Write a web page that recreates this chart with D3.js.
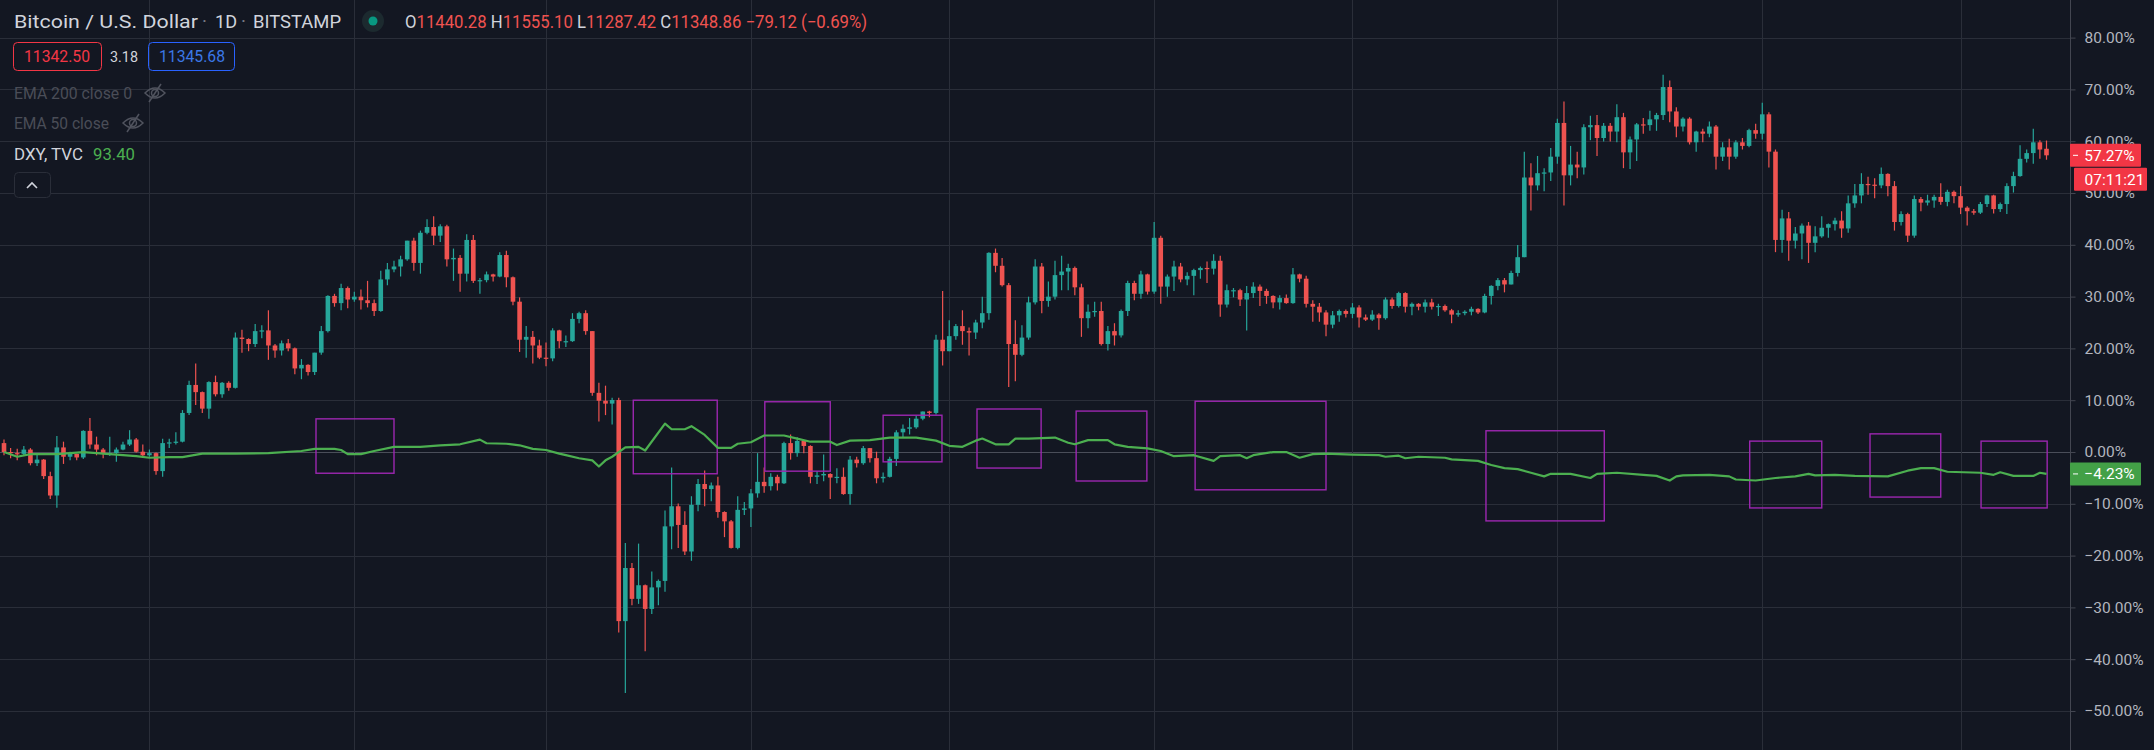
<!DOCTYPE html>
<html>
<head>
<meta charset="utf-8">
<script src="https://cdn.jsdelivr.net/npm/d3@7"></script>
<style>
  body { margin: 0; background: #131722; overflow: hidden; }
  text { font-family: Roboto, "Noto Sans", sans-serif; }
</style>
</head>
<body>
<script>
// BTCUSD daily candles (Bitstamp), [open, high, low, close], 10 Dec 2019 -> 14 Oct 2020
const dec19 = [
  [7340,7390,7170,7216],[7216,7270,7130,7200],[7200,7260,7100,7190],[7190,7300,7170,7250],
  [7250,7270,7030,7060],[7060,7190,7020,7110],[7110,7120,6840,6880],[6880,6940,6560,6610],
  [6610,7440,6440,7280],[7280,7360,7050,7150],[7150,7220,7100,7190],[7190,7190,7100,7140],
  [7140,7520,7120,7510],[7510,7690,7260,7320],[7320,7430,7170,7250],[7250,7270,7130,7200],
  [7200,7430,7160,7200],[7200,7280,7080,7250],[7250,7360,7240,7320],[7320,7520,7300,7390],
  [7390,7410,7210,7220],[7220,7320,7150,7170]
]
const jan20 = [
  [7170,7250,7150,7200],[7200,7210,6900,6950],[6950,7400,6870,7340],[7340,7400,7270,7350],
  [7350,7490,7320,7360],[7360,7800,7350,7760],[7760,8210,7730,8150],[8150,8450,7870,8050],
  [8050,8060,7760,7820],[7820,8200,7680,8190],[8190,8280,7990,8020],[8020,8190,7970,8180],
  [8180,8200,8070,8110],[8110,8880,8100,8810],[8810,8920,8600,8790],[8790,8800,8620,8720],
  [8720,9000,8680,8900],[8900,8980,8800,8910],[8910,9190,8500,8700],[8700,8720,8530,8630],
  [8630,8770,8560,8730],[8730,8790,8620,8660],[8660,8670,8300,8380],[8380,8510,8230,8430],
  [8430,8440,8280,8330],[8330,8600,8290,8600],[8600,8970,8570,8900],[8900,9400,8880,9390],
  [9390,9420,9240,9290],[9290,9560,9190,9500],[9500,9520,9220,9340]
]
const feb20 = [
  [9340,9450,9310,9380],[9380,9480,9200,9330],[9330,9600,9230,9290],[9290,9340,9110,9180],
  [9180,9740,9170,9620],[9620,9850,9540,9760],[9760,9880,9720,9800],[9800,9950,9660,9900],
  [9900,10160,9880,10160],[10160,10200,9740,9850],[9850,10300,9700,10270],[10270,10460,10250,10350],
  [10350,10500,10100,10230],[10230,10390,10140,10360],[10360,10380,9800,9900],[9900,10050,9600,9920],
  [9920,9960,9450,9700],[9700,10250,9590,10170],[10170,10240,9570,9600],[9600,9640,9420,9610],
  [9610,9730,9580,9690],[9690,9700,9590,9660],[9660,10000,9650,9960],[9960,10020,9510,9650],
  [9650,9660,9260,9310],[9310,9370,8610,8780],[8780,8970,8530,8820],[8820,8900,8450,8700],
  [8700,8780,8510,8530]
]
const mar20 = [
  [8530,8740,8410,8520],[8520,8940,8480,8910],[8910,8920,8660,8760],[8760,8840,8680,8760],
  [8760,9150,8750,9070],[9070,9170,9010,9150],[9150,9190,8850,8900],[8900,8900,8000,8040],
  [8040,8180,7640,7930],[7930,8140,7730,7890],[7890,7970,7600,7940],[7940,7970,4700,4860],
  [4860,5950,3860,5600],[5600,5670,5080,5170],[5170,5940,5100,5360],[5360,5370,4440,5030],
  [5030,5550,4960,5330],[5330,5440,5080,5420],[5420,6400,5270,6180],[6180,7000,5860,6460],
  [6460,6500,5880,6200],[6200,6390,5780,5830],[5830,6600,5700,6480],[6480,6840,6390,6770],
  [6770,6960,6460,6700],[6700,6790,6530,6750],[6750,6870,6300,6380],[6380,6390,6030,6250],
  [6250,6270,5870,5880],[5880,6600,5860,6410],[6410,6520,6340,6430]
]
const apr20 = [
  [6430,6700,6170,6640],[6640,7200,6580,6800],[6800,7000,6650,6740],[6740,6920,6680,6870],
  [6870,6900,6680,6780],[6780,7360,6770,7340],[7340,7460,7110,7200],[7200,7420,7150,7370],
  [7370,7380,7200,7300],[7300,7310,6780,6870],[6870,6950,6770,6890],[6890,7180,6810,6910],
  [6910,6920,6560,6860],[6860,6990,6780,6870],[6870,7000,6620,6630],[6630,7160,6480,7110],
  [7110,7150,7000,7060],[7060,7300,7040,7270],[7270,7270,7070,7130],[7130,7220,6780,6850],
  [6850,6930,6790,6870],[6870,7150,6860,7120],[7120,7520,7020,7490],[7490,7600,7410,7540],
  [7540,7690,7460,7560],[7560,7720,7540,7680],[7680,7780,7660,7780],[7780,7790,7700,7760],
  [7760,8850,7740,8780],[8780,9460,8420,8620]
]
const may20 = [
  [8620,9050,8620,8830],[8830,9000,8780,8970],[8970,9190,8710,8900],[8900,8950,8560,8880],
  [8880,9060,8790,9020],[9020,9380,8940,9150],[9150,10000,9060,9990],[9990,10050,9720,9810],
  [9810,9920,9520,9540],[9540,9570,8120,8720],[8720,9050,8200,8570],[8570,8980,8550,8810],
  [8810,9380,8780,9300],[9300,9900,9270,9800],[9800,9850,9150,9320],[9320,9590,9240,9380],
  [9380,9880,9340,9680],[9680,9950,9470,9730],[9730,9840,9470,9780],[9780,9800,9400,9510],
  [9510,9560,8820,9080],[9080,9270,8940,9170],[9170,9310,9100,9180],[9180,9310,8700,8720],
  [8720,8970,8630,8900],[8900,9010,8700,8840],[8840,9200,8810,9180],[9180,9600,9110,9570],
  [9570,9600,9330,9420],[9420,9740,9350,9690],[9690,9700,9410,9450]
]
const jun20 = [
  [9450,10420,9420,10200],[10200,10230,9280,9520],[9520,9690,9380,9660],[9660,9880,9460,9800],
  [9800,9850,9580,9620],[9620,9720,9540,9670],[9670,9770,9400,9750],[9750,9800,9630,9780],
  [9780,9870,9570,9770],[9770,9970,9690,9880],[9880,9950,9100,9270],[9270,9550,9230,9470],
  [9470,9500,9370,9470],[9470,9490,9250,9340],[9340,9530,8910,9430],[9430,9580,9360,9520],
  [9520,9550,9250,9460],[9460,9490,9280,9390],[9390,9400,9220,9300],[9300,9400,9200,9360],
  [9360,9410,9280,9290],[9290,9780,9280,9690],[9690,9700,9580,9630],[9630,9670,9230,9280],
  [9280,9330,9030,9240],[9240,9290,9030,9160],[9160,9190,8830,8990],[8990,9180,8940,9120],
  [9120,9200,9030,9180],[9180,9200,9090,9140]
]
const jul20 = [
  [9140,9290,9080,9230],[9230,9260,8950,9090],[9090,9130,9040,9060],[9060,9190,9040,9130],
  [9130,9150,8920,9080],[9080,9370,9060,9340],[9340,9370,9210,9250],[9250,9450,9230,9430],
  [9430,9440,9160,9240],[9240,9300,9120,9280],[9280,9290,9190,9240],[9240,9340,9160,9300],
  [9300,9350,9200,9240],[9240,9280,9110,9250],[9250,9270,9170,9190],[9190,9210,9010,9130],
  [9130,9190,9100,9150],[9150,9190,9120,9170],[9170,9240,9120,9210],[9210,9220,9140,9160],
  [9160,9420,9150,9390],[9390,9540,9270,9530],[9530,9640,9470,9610],[9610,9640,9440,9550],
  [9550,9740,9550,9710],[9710,10100,9660,9930],[9930,11400,9930,11040],[11040,11240,10580,10930],
  [10930,11340,10860,11100],[11100,11170,10850,11110],[11110,11450,10990,11330]
]
const aug20 = [
  [11330,11860,11230,11800],[11800,12100,10650,11070],[11070,11480,10930,11220],[11220,11400,11030,11180],
  [11180,11780,11080,11740],[11740,11900,11560,11770],[11770,11910,11340,11590],[11590,11800,11540,11760],
  [11760,11800,11540,11680],[11680,12060,11530,11880],[11880,11940,11170,11390],[11390,11610,11160,11570],
  [11570,11800,11270,11780],[11780,11870,11650,11770],[11770,11970,11690,11850],[11850,11940,11690,11910],
  [11910,12470,11840,12300],[12300,12390,11810,11960],[11960,12020,11600,11750],[11750,11880,11680,11860],
  [11860,11880,11500,11530],[11530,11690,11400,11680],[11680,11720,11530,11650],[11650,11820,11600,11750],
  [11750,11770,11150,11330],[11330,11530,11270,11460],[11460,11580,11150,11330],[11330,11560,11300,11530],
  [11530,11590,11430,11480],[11480,11720,11460,11700],[11700,11790,11580,11650]
]
const sep20 = [
  [11650,12080,11570,11920],[11920,11950,11180,11400],[11400,11430,10000,10170],[10170,10590,9990,10470],
  [10470,10560,9880,10160],[10160,10350,10050,10260],[10260,10400,9900,10370],[10370,10420,9850,10130],
  [10130,10360,10000,10220],[10220,10500,10200,10340],[10340,10400,10200,10390],[10390,10480,10300,10440],
  [10440,10570,10200,10330],[10330,10790,10270,10680],[10680,10950,10620,10790],[10790,11100,10680,10950],
  [10950,11050,10800,10940],[10940,11030,10750,10930],[10930,11180,10890,11090],[11090,11100,10780,10920],
  [10920,10990,10300,10420],[10420,10570,10370,10530],[10530,10550,10140,10230],[10230,10790,10200,10740],
  [10740,10770,10570,10690],[10690,10800,10650,10720],[10720,10800,10620,10770],[10770,10960,10660,10700],
  [10700,10870,10640,10840],[10840,10860,10680,10780]
]
const oct20 = [
  [10780,10920,10530,10620],[10620,10640,10370,10570],[10570,10600,10520,10550],[10550,10700,10530,10670],
  [10670,10800,10630,10790],[10790,10800,10540,10600],[10600,10690,10560,10670],[10670,10960,10530,10920],
  [10920,11120,10830,11060],[11060,11490,11050,11300],[11300,11430,11250,11380],[11380,11720,11230,11530],
  [11530,11560,11300,11430],[11440.28,11555.10,11287.42,11348.86]
]

// DXY (TVC) closes, placed on the BTC day index
const dxyDay = [0,2,4,8,12,16,20,22,25,27,30,35,40,45,47,50,51,52,54,56,59,63,66,69,72,73,76,78,80,82,
  84,85,87,89,90,91,92,94,96,97,100,101,103,104,106,108,110,111,113,115,118,120,122,125,126,128,131,134,138,141,
  143,145,147,148,150,152,153,155,159,161,162,164,167,168,170,173,175,177,180,183,184,187,188,189,192,194,196,198,200,204,
  208,209,211,212,214,218,219,223,225,227,229,231,233,234,237,240,241,244,248,250,252,253,254,258,261,262,265,268,271,273,
  274,277,280,285,288,290,292,294,299,301,302,304,307,308,309]
const dxyValue = [97.53,96.64,97.13,97.13,97.52,97.13,96.74,96.45,96.55,96.55,97.23,97.23,97.32,97.72,98.11,98.11,97.91,97.13,97.13,97.72,
  98.50,98.50,98.79,98.98,99.86,99.18,99.08,98.79,98.11,97.91,97.23,96.93,96.35,95.96,94.79,95.96,96.64,98.40,98.50,97.81,
  102.88,101.81,101.81,102.40,100.74,98.30,98.30,99.08,99.37,100.64,100.64,100.06,99.47,99.47,98.84,99.67,99.76,100.25,100.25,99.67,
  98.69,98.50,99.67,100.06,98.98,98.98,100.06,100.06,100.25,99.28,98.98,99.76,99.76,98.98,98.50,98.20,97.72,96.74,96.93,95.86,
  96.74,96.93,96.35,96.93,97.52,97.52,96.45,97.13,97.23,97.03,96.93,96.64,96.84,96.35,96.64,96.45,96.15,95.86,95.08,94.50,
  94.30,93.62,92.94,93.42,93.42,92.64,93.42,93.62,93.23,93.03,92.16,92.94,93.13,93.23,92.94,92.35,92.16,92.64,92.94,93.42,
  93.13,93.23,93.03,92.94,94.01,94.50,94.50,93.81,93.62,93.23,93.72,93.03,93.03,93.62,93.40]

// drawn rectangles: day index range and percent range
const boxStart = [47.2, 95.2, 115.1, 133.0, 147.2, 162.2, 180.2, 224.2, 264.1, 282.3, 299.1]
const boxEnd = [59.0, 107.9, 125.0, 141.9, 156.9, 172.9, 200.0, 242.1, 275.0, 293.0, 309.1]
const boxTop = [6.4, 10.0, 9.7, 7.1, 8.3, 7.9, 9.8, 4.1, 2.1, 3.5, 2.1]
const boxBottom = [-4.1, -4.2, -3.7, -1.9, -3.1, -5.6, -7.3, -13.3, -10.8, -8.7, -10.8]

const pctTicks = d3.range(-50, 81, 10)

const W = 2154, H = 750
const axisX = 2070
const up = '#26a69a', down = '#ef5350'

const days = d3.timeDay.range(new Date(2019, 11, 10), new Date(2020, 9, 15))
const btc = [].concat(dec19, jan20, feb20, mar20, apr20, may20, jun20, jul20, aug20, sep20, oct20)
  .map((d, i) => ({ i: i, date: days[i], o: d[0], h: d[1], l: d[2], c: d[3] }))

const btcBase = btc[0].c
const dxyBase = dxyValue[0]
const pct = (v, base) => (v / base - 1) * 100

const svg = d3.select('body').append('svg')
  .attr('width', W)
  .attr('height', H)
  .style('display', 'block')

svg.append('rect').attr('width', W).attr('height', H).attr('fill', '#131722')

const x = d3.scaleLinear().domain([0, btc.length - 1]).range([4, 2046.5])
const y = d3.scaleLinear().domain([-50, 80]).range([711, 37.6])

// grid
const grid = svg.append('g')
grid.selectAll('.hg').data(pctTicks).join('line')
  .attr('x1', 0).attr('x2', axisX)
  .attr('y1', d => Math.round(y(d)) + 0.5).attr('y2', d => Math.round(y(d)) + 0.5)
  .attr('stroke', d => d === 0 ? '#4a4e59' : '#2a2e39')
  .attr('stroke-width', 1)

const monthStarts = btc.filter(d => d.date.getDate() === 1)
grid.selectAll('.vg').data(monthStarts).join('line')
  .attr('x1', d => Math.round(x(d.i)) + 0.5).attr('x2', d => Math.round(x(d.i)) + 0.5)
  .attr('y1', 0).attr('y2', H)
  .attr('stroke', '#2a2e39')

// candles
const cg = svg.append('g')
const bodyW = 4.6
cg.selectAll('.wick').data(btc).join('line')
  .attr('x1', d => x(d.i)).attr('x2', d => x(d.i))
  .attr('y1', d => y(pct(d.h, btcBase))).attr('y2', d => y(pct(d.l, btcBase)))
  .attr('stroke', d => d.c >= d.o ? up : down)
  .attr('stroke-width', 1.2)

cg.selectAll('.body').data(btc).join('rect')
  .attr('x', d => x(d.i) - bodyW / 2)
  .attr('width', bodyW)
  .attr('y', d => y(pct(Math.max(d.o, d.c), btcBase)))
  .attr('height', d => Math.max(1.2, Math.abs(y(pct(d.o, btcBase)) - y(pct(d.c, btcBase)))))
  .attr('fill', d => d.c >= d.o ? up : down)

// annotation rectangles
svg.append('g').selectAll('rect').data(boxStart).join('rect')
  .attr('x', (d, k) => x(d))
  .attr('y', (d, k) => y(boxTop[k]))
  .attr('width', (d, k) => x(boxEnd[k]) - x(d))
  .attr('height', (d, k) => y(boxBottom[k]) - y(boxTop[k]))
  .attr('fill', 'none')
  .attr('stroke', '#9c27b0')
  .attr('stroke-width', 1.4)

// DXY comparison line
const dxy = dxyDay.map((d, k) => ({ i: d, v: pct(dxyValue[k], dxyBase) }))
svg.append('path')
  .datum(dxy)
  .attr('fill', 'none')
  .attr('stroke', '#4caf50')
  .attr('stroke-width', 2.2)
  .attr('stroke-linejoin', 'round')
  .attr('d', d3.line().x(d => x(d.i)).y(d => y(d.v)))

// right price axis
const fmt = d => (d < 0 ? '\u2212' : '') + Math.abs(d).toFixed(2) + '%'
const yaxis = d3.axisRight(y).tickValues(pctTicks).tickSize(5).tickPadding(9).tickFormat(fmt)
const ax = svg.append('g').attr('transform', `translate(${axisX + 0.5},0)`).call(yaxis)
ax.select('.domain').attr('stroke', '#434651').attr('d', `M0,0V${H}`)
ax.selectAll('.tick line').attr('stroke', '#434651')
ax.selectAll('.tick text').attr('fill', '#b2b5be').attr('font-size', 15.5)

// axis price labels
function axisLabel(yPos, txt, col, x0, w) {
  const g = svg.append('g')
  g.append('rect').attr('x', x0).attr('y', yPos - 11.5).attr('width', w).attr('height', 23).attr('fill', col).attr('rx', 1)
  g.append('text').attr('x', x0 + w / 2 + 4).attr('y', yPos + 5.5).attr('text-anchor', 'middle')
    .attr('fill', '#ffffff').attr('font-size', 15.5).text(txt)
  return g
}
const lastBtc = pct(btc[btc.length - 1].c, btcBase)
const lastDxy = pct(dxyValue[dxyValue.length - 1], dxyBase)
axisLabel(y(lastBtc), fmt(lastBtc), '#f23645', axisX, 71)
  .append('line').attr('x1', axisX + 3).attr('x2', axisX + 8).attr('y1', y(lastBtc)).attr('y2', y(lastBtc)).attr('stroke', '#fff')
axisLabel(y(lastBtc) + 24, '07:11:21', '#f23645', axisX + 4, 73)
axisLabel(y(lastDxy), fmt(lastDxy), '#43a047', axisX, 71)
  .append('line').attr('x1', axisX + 3).attr('x2', axisX + 8).attr('y1', y(lastDxy)).attr('y2', y(lastDxy)).attr('stroke', '#fff')

// legend
const lg = svg.append('g')
function label(xp, yp, txt, size, col, len) {
  const t = lg.append('text').attr('x', xp).attr('y', yp).attr('font-size', size).attr('fill', col).text(txt)
  if (len) t.attr('textLength', len).attr('lengthAdjust', 'spacingAndGlyphs')
  return t
}
label(14, 28, 'Bitcoin / U.S. Dollar', 19, '#d1d4dc', 184)
label(202, 28, '·', 19, '#787b86')
label(215, 28, '1D', 19, '#d1d4dc', 22)
label(241, 28, '·', 19, '#787b86')
label(253, 28, 'BITSTAMP', 19, '#d1d4dc', 88)

lg.append('circle').attr('cx', 373).attr('cy', 21).attr('r', 11).attr('fill', '#1c2a2f')
lg.append('circle').attr('cx', 373).attr('cy', 21).attr('r', 4.5).attr('fill', '#089981')

const last = btc[btc.length - 1]
const ohlc = lg.append('text').attr('x', 405).attr('y', 28).attr('font-size', 17.5).attr('fill', '#d1d4dc')
  .attr('textLength', 462).attr('lengthAdjust', 'spacingAndGlyphs')
;[['O', last.o], ['H', last.h], ['L', last.l], ['C', last.c]].forEach(p => {
  ohlc.append('tspan').text(p[0])
  ohlc.append('tspan').attr('fill', down).text(p[1].toFixed(2) + ' ')
})
ohlc.append('tspan').attr('fill', down)
  .text('\u221279.12 (\u22120.69%)')

// bid / ask boxes
lg.append('rect').attr('x', 13.5).attr('y', 42.5).attr('width', 88).attr('height', 28).attr('rx', 4)
  .attr('fill', 'none').attr('stroke', '#f23645')
label(24, 62, '11342.50', 17, '#f23645', 66)
label(110, 62, '3.18', 15, '#d1d4dc', 28)
lg.append('rect').attr('x', 148.5).attr('y', 42.5).attr('width', 86).attr('height', 28).attr('rx', 4)
  .attr('fill', 'none').attr('stroke', '#2962ff')
label(159, 62, '11345.68', 17, '#3b78e7', 66)

// hidden indicators
function eyeOff(cx, cy) {
  const g = lg.append('g').attr('stroke', '#50535e').attr('fill', 'none').attr('stroke-width', 1.5)
  g.append('path').attr('d', `M${cx - 10},${cy} Q${cx},${cy - 10} ${cx + 10},${cy} Q${cx},${cy + 10} ${cx - 10},${cy}Z`)
  g.append('circle').attr('cx', cx).attr('cy', cy).attr('r', 3.5)
  g.append('line').attr('x1', cx - 6).attr('y1', cy + 9).attr('x2', cx + 6).attr('y2', cy - 9)
}
label(14, 99, 'EMA 200 close 0', 16.5, '#4a4d57', 118)
eyeOff(155, 93)
label(14, 129, 'EMA 50 close', 16.5, '#4a4d57', 95)
eyeOff(133, 123)

label(14, 160, 'DXY, TVC', 17, '#d1d4dc', 69)
label(93, 160, dxyValue[dxyValue.length - 1].toFixed(2), 17, '#4caf50', 42)

lg.append('rect').attr('x', 14.5).attr('y', 172.5).attr('width', 36).attr('height', 25).attr('rx', 4)
  .attr('fill', '#131722').attr('stroke', '#2a2e39')
lg.append('path').attr('d', 'M27,188 L32,183 L37,188').attr('fill', 'none').attr('stroke', '#d1d4dc').attr('stroke-width', 1.6)
</script>
</body>
</html>
